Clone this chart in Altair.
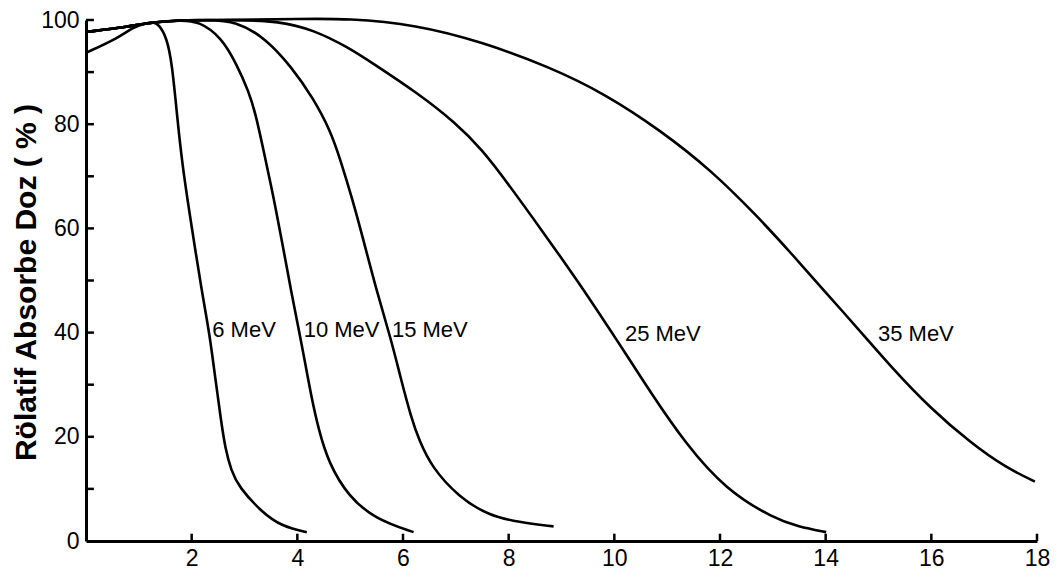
import altair as alt
import pandas as pd

# ---- data (depth in cm, relative absorbed dose in %) ----
labels = ["6 MeV", "10 MeV", "15 MeV", "25 MeV", "35 MeV"]

x_6 = [0, 0.62, 0.87, 1.13, 1.29, 1.38, 1.53, 1.63, 1.72, 1.82, 1.95, 2.19, 2.34, 2.45, 2.55,
       2.64, 2.75, 2.89, 3.33, 3.71, 4.18]
y_6 = [93.7, 96.6, 98.5, 99.4, 99.6, 99.1, 96.6, 91.5, 82.0, 72.5, 63.5, 48.0, 39.7, 31.0, 23.5,
       17.5, 13.5, 10.4, 5.5, 2.8, 1.7]

x_10 = [0, 0.81, 1.13, 1.76, 2.14, 2.57, 2.85, 3.08, 3.21, 3.36, 3.55, 3.71, 3.90, 4.03, 4.16, 4.27,
        4.40, 4.59, 4.97, 5.48, 6.20]
y_10 = [97.7, 98.7, 99.4, 100, 99.8, 96.6, 91.5, 86.3, 82.0, 75.0, 66.0, 57.5, 47.0, 40.5, 33.5, 27.5,
        21.5, 15.0, 8.5, 4.2, 1.7]

x_15 = [0, 0.81, 1.13, 1.76, 2.3, 2.84, 3.40, 3.89, 4.30, 4.63, 4.82, 5.03, 5.22, 5.50, 5.78, 5.95,
        6.16, 6.30, 6.54, 7.05, 7.62, 8.19, 8.85]
y_15 = [97.7, 98.7, 99.4, 100, 100, 99.8, 96.5, 91.0, 85.0, 78.7, 73.0, 66.0, 59.0, 48.0, 38.5, 31.5,
        23.5, 19.5, 14.2, 8.5, 4.9, 3.6, 2.8]

x_25 = [0, 0.81, 1.13, 1.76, 2.84, 3.65, 4.31, 4.97, 5.41, 6.30, 6.99, 7.49, 7.96, 8.70, 9.32, 9.94,
        10.13, 10.70, 11.34, 12.10, 13.04, 13.48, 14.01]
y_25 = [97.7, 98.7, 99.4, 100, 100, 99.8, 98.1, 94.7, 91.8, 85.8, 80.3, 75.2, 69.0, 58.6, 49.7, 40.2,
        37.3, 28.3, 18.8, 9.9, 4.2, 2.8, 1.7]

x_35 = [0, 0.81, 1.13, 1.76, 2.84, 4.0, 4.97, 6.24, 7.49, 8.75, 9.83, 10.89, 11.83, 12.72, 13.35,
        13.99, 14.61, 15.24, 15.99, 16.75, 17.39, 17.96]
y_35 = [97.7, 98.7, 99.4, 100, 100, 100.2, 100.3, 99.1, 95.8, 91.1, 85.8, 78.7, 71.2, 62.2, 55.2,
        47.8, 40.8, 33.4, 25.4, 18.8, 14.2, 11.4]

label_x = [2.39, 4.12, 5.79, 10.2, 14.99]
label_y = [40.5, 40.5, 40.5, 39.8, 39.7]

x_tick_values = [2, 4, 6, 8, 10, 12, 14, 16, 18]
y_tick_values = [0, 20, 40, 60, 80, 100]
y_minor_ticks = [10, 20, 30, 40, 50, 60, 70, 80, 90, 100]

# ---- tables ----
rows = []
for name, xs, ys in zip(labels, [x_6, x_10, x_15, x_25, x_35], [y_6, y_10, y_15, y_25, y_35]):
    for i, (a, b) in enumerate(zip(xs, ys)):
        rows.append({"curve": name, "order": i, "depth": a, "dose": b})
df = pd.DataFrame(rows)

lab_df = pd.DataFrame({"depth": label_x, "dose": label_y, "text": labels})
xt_df = pd.DataFrame({"depth": x_tick_values, "dose": [0] * len(x_tick_values),
                      "dose2": [1.4] * len(x_tick_values)})
yt_df = pd.DataFrame({"dose": y_minor_ticks, "depth": [0] * len(y_minor_ticks),
                      "depth2": [0.15] * len(y_minor_ticks)})

FONT = "Liberation Sans, Arial, sans-serif"

x_scale = alt.Scale(domain=[0, 18], nice=False, zero=False)
y_scale = alt.Scale(domain=[0, 100], nice=False)

x_axis = alt.Axis(values=x_tick_values, title=None, grid=False, ticks=False,
                  labelFont=FONT, labelFontSize=23, labelColor="black",
                  labelPadding=6, labelFlush=False, labelOverlap=False,
                  domainColor="black", domainWidth=3)
y_axis = alt.Axis(values=y_tick_values, title="Rölatif Absorbe Doz ( % )", grid=False, ticks=False,
                  labelFont=FONT, labelFontSize=23, labelColor="black",
                  labelPadding=7, labelFlush=False, labelOverlap=False,
                  domainColor="black", domainWidth=3,
                  titleFont=FONT, titleFontSize=30, titleFontWeight="bold",
                  titleColor="black", titleAngle=270, titleX=-51, titleY=262,
                  titleAlign="center", titleBaseline="alphabetic")

lines = alt.Chart(df).mark_line(color="black", strokeWidth=2.6, interpolate="basis").encode(
    x=alt.X("depth:Q", scale=x_scale, axis=x_axis),
    y=alt.Y("dose:Q", scale=y_scale, axis=y_axis),
    detail="curve:N",
    order="order:Q",
)

xticks = alt.Chart(xt_df).mark_rule(color="black", strokeWidth=2.5).encode(
    x=alt.X("depth:Q", scale=x_scale), y=alt.Y("dose:Q", scale=y_scale), y2="dose2:Q")
yticks = alt.Chart(yt_df).mark_rule(color="black", strokeWidth=2.5).encode(
    y=alt.Y("dose:Q", scale=y_scale), x=alt.X("depth:Q", scale=x_scale), x2="depth2:Q")

texts = alt.Chart(lab_df).mark_text(font=FONT, fontSize=22, color="black",
                                     align="left", baseline="middle").encode(
    x=alt.X("depth:Q", scale=x_scale), y=alt.Y("dose:Q", scale=y_scale), text="text:N")

chart = alt.layer(lines, xticks, yticks, texts).properties(
    width=951, height=521,
    autosize=alt.AutoSizeParams(type="none"),
    padding={"left": 78, "top": 12, "right": 15, "bottom": 30},
    background="white",
).configure_view(stroke=None)

chart.save("out.html", embed_options={"renderer": "svg", "actions": False})
